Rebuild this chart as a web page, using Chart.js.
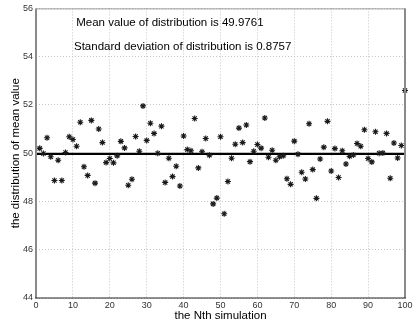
<!DOCTYPE html>
<html>
<head>
<meta charset="utf-8">
<script src="https://cdn.jsdelivr.net/npm/chart.js@4"></script>
<style>
html,body{margin:0;padding:0;background:#fff;}
#wrap{position:relative;width:415px;height:325px;}
</style>
</head>
<body>
<div id="wrap"><canvas id="c" width="415" height="325"></canvas></div>
<script>
const simulationIndex = Array.from({length: 100}, (_, i) => i + 1);
const meanValues = [
  50.20, 49.99, 50.64, 49.85, 48.87, 49.71, 48.87, 50.03, 50.68, 50.57,
  50.29, 51.28, 49.44, 49.08, 51.36, 48.76, 51.00, 50.44, 49.61, 49.78,
  49.60, 49.89, 50.49, 50.22, 48.67, 48.92, 50.69, 50.08, 51.96, 50.53,
  51.24, 50.82, 50.00, 51.12, 48.79, 49.79, 49.03, 49.46, 48.64, 50.71,
  50.15, 50.10, 51.44, 49.39, 50.06, 50.61, 49.92, 47.90, 48.14, 50.68,
  47.49, 48.83, 49.79, 50.37, 51.04, 50.44, 51.17, 49.65, 50.08, 50.36,
  50.21, 51.46, 49.83, 50.12, 49.71, 49.85, 49.89, 48.94, 48.71, 50.50,
  49.96, 49.21, 48.93, 51.22, 49.32, 48.13, 49.76, 50.25, 51.32, 49.26,
  50.19, 48.99, 50.10, 49.55, 49.87, 49.93, 50.40, 50.29, 50.97, 49.78,
  49.64, 50.89, 50.00, 50.01, 50.82, 48.96, 50.42, 49.80, 50.32, 52.60
];
const overallMean = 49.9761;
const overallStd = 0.8757;
const meanLineX = [0, 100];
const xTicks = [0, 10, 20, 30, 40, 50, 60, 70, 80, 90, 100];
const yTicks = [44, 46, 48, 50, 52, 54, 56];
const annotationLines = [
  {x: 10.9, y: 55.4, text: 'Mean value of distribution is ' + overallMean.toFixed(4)},
  {x: 10.3, y: 54.4, text: 'Standard deviation of distribution is ' + overallStd.toFixed(4)}
];

const FONT = '"Liberation Sans", Arial, Helvetica, sans-serif';

const framePlugin = {
  id: 'frame',
  afterDraw(chart) {
    const {ctx, chartArea: a, scales} = chart;
    ctx.save();
    ctx.strokeStyle = '#9a9a9a'; ctx.lineWidth = 1;
    ctx.beginPath(); ctx.moveTo(a.left, a.top + 0.5); ctx.lineTo(a.right, a.top + 0.5); ctx.stroke();
    ctx.strokeStyle = '#8a8a8a'; ctx.lineWidth = 2;
    ctx.beginPath(); ctx.moveTo(a.left, a.top); ctx.lineTo(a.left, a.bottom); ctx.stroke();
    ctx.beginPath(); ctx.moveTo(a.right, a.top); ctx.lineTo(a.right, a.bottom); ctx.stroke();
    ctx.strokeStyle = '#222'; ctx.lineWidth = 1.2;
    ctx.beginPath(); ctx.moveTo(a.left - 1, a.bottom); ctx.lineTo(a.right + 1, a.bottom); ctx.stroke();
    ctx.fillStyle = '#000';
    ctx.font = '11.5px ' + FONT;
    ctx.textAlign = 'left';
    ctx.textBaseline = 'middle';
    annotationLines.forEach(l => {
      ctx.fillText(l.text, scales.x.getPixelForValue(l.x), scales.y.getPixelForValue(l.y));
    });
    ctx.restore();
  }
};

new Chart(document.getElementById('c'), {
  type: 'scatter',
  data: {
    datasets: [
      {
        label: 'mean line',
        type: 'line',
        data: meanLineX.map(x => ({x, y: overallMean})),
        borderColor: '#000',
        borderWidth: 2.2,
        pointRadius: 0,
        fill: false,
        order: 2
      },
      {
        label: 'samples',
        data: simulationIndex.map((x, i) => ({x, y: meanValues[i]})),
        pointStyle: 'star',
        pointRadius: 3,
        borderColor: '#1a1a1a',
        backgroundColor: '#1a1a1a',
        borderWidth: 1.1,
        clip: false,
        order: 1
      }
    ]
  },
  options: {
    responsive: false,
    animation: false,
    devicePixelRatio: 1,
    layout: {padding: {left: 0, top: 8, right: 10, bottom: 0}},
    plugins: {legend: {display: false}, tooltip: {enabled: false}},
    scales: {
      x: {
        type: 'linear',
        min: 0, max: 100,
        afterBuildTicks: s => { s.ticks = xTicks.map(v => ({value: v})); },
        afterFit: s => { s.height = 27; },
        ticks: {font: {family: FONT, size: 9}, color: '#333', padding: 2, maxRotation: 0},
        grid: {color: '#c4c4c4', drawTicks: false, lineWidth: 1},
        border: {display: false, dash: [1, 2]},
        title: {display: true, text: 'the Nth simulation', font: {family: FONT, size: 11.5}, color: '#000', padding: {top: 0, bottom: 2}}
      },
      y: {
        type: 'linear',
        min: 44, max: 56,
        afterBuildTicks: s => { s.ticks = yTicks.map(v => ({value: v})); },
        afterFit: s => { s.width = 36; },
        ticks: {font: {family: FONT, size: 9}, color: '#333', padding: 3},
        grid: {color: '#c4c4c4', drawTicks: false, lineWidth: 1},
        border: {display: false, dash: [1, 2]},
        title: {display: true, text: 'the distribution of mean value', font: {family: FONT, size: 11.5}, color: '#000', padding: {top: 9, bottom: 0}}
      }
    }
  },
  plugins: [framePlugin]
});
</script>
</body>
</html>
